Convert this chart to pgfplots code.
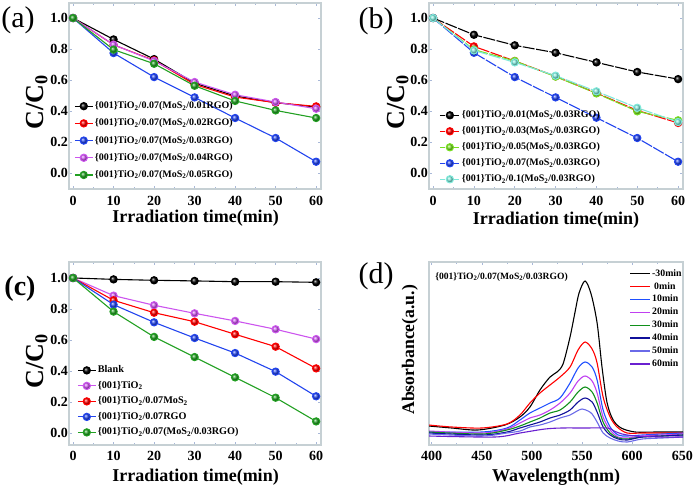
\documentclass[border=0pt]{standalone}
\usepackage{fontspec}
\setmainfont{Liberation Serif}
\usepackage{pgfplots}
\pgfplotsset{compat=1.18}

\definecolor{framecol}{HTML}{C6D0D4}
\definecolor{tickcol}{HTML}{A8B8D8}
\definecolor{cblue}{HTML}{2244EE}
\definecolor{cmag}{HTML}{CC55EE}
\definecolor{cgreen}{HTML}{22A022}
\definecolor{clgreen}{HTML}{77DD22}
\definecolor{ccyan}{HTML}{7FE8DA}
\definecolor{dblue}{HTML}{1F4FFF}
\definecolor{dviolet}{HTML}{C040F0}
\definecolor{dgreen}{HTML}{10901A}
\definecolor{dnavy}{HTML}{10109A}
\definecolor{dslate}{HTML}{6A6AE8}
\definecolor{dpurple}{HTML}{6A20D0}

\pgfplotsset{
  panel/.style={
    scale only axis,
    axis line style={draw=framecol, line width=1.6pt},
    tick style={draw=tickcol, line width=0.6pt},
    tick align=inside,
    major tick length=3pt, minor tick length=2pt,
    ticklabel style={font=\fontsize{14}{16}\selectfont\bfseries},
    yticklabel style={inner sep=1pt},
    xticklabel style={inner sep=0pt, yshift=-7pt},
    /pgf/number format/assume math mode=true,
    xlabel style={font=\fontsize{18}{20}\selectfont\bfseries, anchor=center},
    ylabel style={anchor=center},
    clip=false,
  },
  kin/.style={
    panel,
    xmin=-1, xmax=61.2,
    xtick={0,10,20,30,40,50,60},
    ytick={0,0.2,0.4,0.6,0.8,1.0},
    minor x tick num=1,
    yticklabel style={/pgf/number format/.cd, fixed, fixed zerofill, precision=1},
    xlabel={Irradiation time(min)},
    ylabel={C/C\textsubscript{0}},
    ylabel style={font=\fontsize{26}{28}\selectfont\bfseries},
    legend cell align=left,
    legend image code/.code={\draw[mark repeat=2,mark phase=2,##1] plot coordinates {(0pt,0pt) (9pt,0pt) (18pt,0pt)};},
  },
  speclegend/.style={
    legend image code/.code={\draw[##1, line width=1.4pt] (0pt,0pt) -- (20pt,0pt);},
  },
  bl/.style={line width=1.1pt, mark=ball, mark size=3.6pt, mark options={solid, ball color=#1}, color=#1},
  bd/.style={line width=1.1pt, dash pattern=on 12pt off 1.5pt, mark=ball, mark size=3.6pt, mark options={solid, ball color=#1}, color=#1},
}

\begin{document}
\begin{tikzpicture}
\useasboundingbox (0,0) rectangle (695pt,488pt);

% ---------------- (a)
\begin{axis}[kin, at={(69pt,299pt)}, anchor=south west, width=252pt, height=186pt,
  ymin=-0.103, ymax=1.097,
  xlabel style={at={(axis description cs:0.502,-0.158)}},
  ylabel style={at={(axis description cs:-0.127,0.468)}},
  legend style={at={(0.008,0.484)}, anchor=north west, draw=none, fill=none,
    font=\fontsize{10}{12}\selectfont\bfseries, row sep=7.2pt, column sep=1.5pt,
    nodes={inner sep=0pt, text height=7.5pt, text depth=2.5pt}},
]
\addplot[bl=black] coordinates {(0,1.0) (10,0.862) (20,0.735) (30,0.58) (40,0.497) (50,0.454) (60,0.426)};
\addlegendentry{\{001\}TiO\textsubscript{2}/0.07(MoS\textsubscript{2}/0.01RGO)}
\addplot[bl=red] coordinates {(0,1.0) (10,0.827) (20,0.727) (30,0.572) (40,0.49) (50,0.454) (60,0.43)};
\addlegendentry{\{001\}TiO\textsubscript{2}/0.07(MoS\textsubscript{2}/0.02RGO)}
\addplot[bl=cblue] coordinates {(0,1.0) (10,0.774) (20,0.619) (30,0.488) (40,0.355) (50,0.226) (60,0.073)};
\addlegendentry{\{001\}TiO\textsubscript{2}/0.07(MoS\textsubscript{2}/0.03RGO)}
\addplot[bl=cmag] coordinates {(0,1.0) (10,0.828) (20,0.723) (30,0.587) (40,0.505) (50,0.458) (60,0.415)};
\addlegendentry{\{001\}TiO\textsubscript{2}/0.07(MoS\textsubscript{2}/0.04RGO)}
\addplot[bl=cgreen] coordinates {(0,1.0) (10,0.796) (20,0.705) (30,0.563) (40,0.465) (50,0.404) (60,0.355)};
\addlegendentry{\{001\}TiO\textsubscript{2}/0.07(MoS\textsubscript{2}/0.05RGO)}
\end{axis}

% ---------------- (b)
\begin{axis}[kin, at={(429pt,299pt)}, anchor=south west, width=254pt, height=186pt,
  ymin=-0.103, ymax=1.097,
  xlabel style={at={(axis description cs:0.5,-0.167)}},
  ylabel style={at={(axis description cs:-0.122,0.468)}},
  legend style={at={(0.028,0.435)}, anchor=north west, draw=none, fill=none,
    font=\fontsize{10}{12}\selectfont\bfseries, row sep=6pt, column sep=1.5pt,
    nodes={inner sep=0pt, text height=7.5pt, text depth=2.5pt}},
  legend image code/.code={\draw[#1, dash pattern=on 5pt off 2pt] (0pt,0pt) -- (20pt,0pt); \draw[#1, mark repeat=2, mark phase=2, draw=none] plot coordinates {(0pt,0pt) (10pt,0pt) (20pt,0pt)};},
]
\addplot[bd=black] coordinates {(0,1.0) (10,0.892) (20,0.824) (30,0.776) (40,0.714) (50,0.652) (60,0.606)};
\addlegendentry{\{001\}TiO\textsubscript{2}/0.01(MoS\textsubscript{2}/0.03RGO)}
\addplot[bd=red] coordinates {(0,1.0) (10,0.817) (20,0.723) (30,0.624) (40,0.516) (50,0.404) (60,0.323)};
\addlegendentry{\{001\}TiO\textsubscript{2}/0.03(MoS\textsubscript{2}/0.03RGO)}
\addplot[bd=clgreen] coordinates {(0,1.0) (10,0.796) (20,0.723) (30,0.622) (40,0.514) (50,0.398) (60,0.34)};
\addlegendentry{\{001\}TiO\textsubscript{2}/0.05(MoS\textsubscript{2}/0.03RGO)}
\addplot[bd=cblue] coordinates {(0,1.0) (10,0.776) (20,0.619) (30,0.488) (40,0.357) (50,0.226) (60,0.073)};
\addlegendentry{\{001\}TiO\textsubscript{2}/0.07(MoS\textsubscript{2}/0.03RGO)}
\addplot[bd=ccyan] coordinates {(0,1.0) (10,0.791) (20,0.714) (30,0.628) (40,0.527) (50,0.421) (60,0.329)};
\addlegendentry{\{001\}TiO\textsubscript{2}/0.1(MoS\textsubscript{2}/0.03RGO)}
\end{axis}

% ---------------- (c)
\begin{axis}[kin, at={(69pt,43pt)}, anchor=south west, width=252pt, height=183pt,
  ymin=-0.077, ymax=1.103,
  xticklabel style={yshift=1pt},
  xlabel style={at={(axis description cs:0.502,-0.175)}},
  ylabel style={at={(axis description cs:-0.127,0.459)}},
  legend style={at={(0.02,0.447)}, anchor=north west, draw=none, fill=none,
    font=\fontsize{10.2}{12}\selectfont\bfseries, row sep=5.5pt, column sep=1.5pt,
    nodes={inner sep=0pt, text height=7.5pt, text depth=2.5pt}},
]
\addplot[bl=black] coordinates {(0,1.0) (10,0.991) (20,0.985) (30,0.981) (40,0.976) (50,0.976) (60,0.972)};
\addlegendentry{Blank}
\addplot[bl=cmag] coordinates {(0,1.0) (10,0.886) (20,0.824) (30,0.772) (40,0.723) (50,0.669) (60,0.606)};
\addlegendentry{\{001\}TiO\textsubscript{2}}
\addplot[bl=red] coordinates {(0,1.0) (10,0.856) (20,0.776) (30,0.718) (40,0.637) (50,0.557) (60,0.417)};
\addlegendentry{\{001\}TiO\textsubscript{2}/0.07MoS\textsubscript{2}}
\addplot[bl=cblue] coordinates {(0,1.0) (10,0.828) (20,0.714) (30,0.613) (40,0.516) (50,0.396) (60,0.237)};
\addlegendentry{\{001\}TiO\textsubscript{2}/0.07RGO}
\addplot[bl=cgreen] coordinates {(0,1.0) (10,0.783) (20,0.62) (30,0.49) (40,0.359) (50,0.228) (60,0.075)};
\addlegendentry{\{001\}TiO\textsubscript{2}/0.07(MoS\textsubscript{2}/0.03RGO)}
\end{axis}

% ---------------- (d)
\begin{axis}[panel, speclegend, at={(429pt,43pt)}, anchor=south west, width=254pt, height=183pt,
  xmin=397.3, xmax=650.7, ymin=0, ymax=183,
  xtick={400,450,500,550,600,650}, minor x tick num=1, ytick=\empty,
  clip=true,
  xticklabel style={yshift=1pt},
  xlabel={Wavelength(nm)}, ylabel={Absorbance(a.u.)},
  xlabel style={at={(axis description cs:0.5,-0.175)}},
  ylabel style={font=\fontsize{17.7}{20}\selectfont\bfseries, at={(axis description cs:-0.075,0.52)}},
  legend cell align=left,
  legend style={at={(0.776,0.973)}, anchor=north west, draw=none, fill=none,
    font=\fontsize{9.8}{12}\selectfont\bfseries, row sep=3.9pt, column sep=1.5pt,
    nodes={inner sep=0pt, text height=7pt, text depth=2pt}},
  every axis plot/.append style={smooth, line width=1.1pt},
]
\addplot[black] coordinates {(397,19) (420,17) (446,15) (473,20) (488,28) (498,38) (508,55) (518,68) (525,73) (531,81) (538,108) (543,133) (547,152) (553,164) (559,151) (565,122) (570,77) (575,42) (581,25) (589,17) (603,13) (625,13) (651,13)};
\addlegendentry{-30min}
\addplot[red] coordinates {(397,20) (420,18) (450,17) (475,21) (488,30) (498,42) (508,52) (518,60) (528,68) (538,78) (546,95) (553,103) (560,96) (565,82) (571,48) (578,28) (585,18) (595,12) (610,12) (630,12) (651,12)};
\addlegendentry{\hspace{2pt}0min}
\addplot[dblue] coordinates {(397,13) (450,13) (475,17) (488,25) (498,32) (508,37) (518,42) (528,47) (538,62) (546,77) (553,83) (560,78) (565,65) (571,35) (578,18) (586,10) (595,9) (610,10) (630,11) (651,12)};
\addlegendentry{10min}
\addplot[dviolet] coordinates {(397,14) (450,12) (475,16) (488,22) (498,27) (508,30) (518,35) (528,42) (538,52) (546,64) (553,69) (560,64) (565,52) (571,28) (578,15) (586,8) (595,7) (610,9) (630,10) (651,11)};
\addlegendentry{20min}
\addplot[dgreen] coordinates {(397,13) (450,11) (475,15) (488,19) (498,23) (508,27) (518,32) (528,35) (538,43) (546,53) (553,58) (560,53) (565,42) (571,23) (578,12) (586,7) (595,6) (610,8) (630,9) (651,10)};
\addlegendentry{30min}
\addplot[dnavy] coordinates {(397,12) (450,10) (475,13) (488,17) (498,20) (508,23) (518,27) (528,30) (538,35) (546,43) (553,47) (560,43) (565,33) (571,18) (578,10) (586,6) (595,5) (610,8) (630,9) (651,10)};
\addlegendentry{40min}
\addplot[dslate] coordinates {(397,11) (450,9) (475,12) (488,14) (498,18) (508,20) (518,23) (528,27) (538,30) (545,34) (550,36) (556,34) (560,31) (565,23) (571,12) (578,7) (586,4) (595,3) (610,6) (630,7) (651,8)};
\addlegendentry{50min}
\addplot[dpurple] coordinates {(397,9) (463,8) (488,12) (513,16) (530,17) (553,17) (575,17) (582,14) (590,11) (603,9) (625,8) (651,8)};
\addlegendentry{60min}
\node[anchor=west, font=\fontsize{9.6}{11}\selectfont\bfseries, inner sep=0pt] at (axis description cs:0.024,0.918) {\{001\}TiO\textsubscript{2}/0.07(MoS\textsubscript{2}/0.03RGO)};
\end{axis}

% panel labels
\node[font=\fontsize{30}{32}\selectfont] at (18pt,468pt) {(a)};
\node[font=\fontsize{30}{32}\selectfont] at (376pt,467pt) {(b)};
\node[font=\fontsize{28}{30}\selectfont\bfseries] at (20pt,199pt) {(c)};
\node[font=\fontsize{30}{32}\selectfont] at (376pt,212pt) {(d)};
\end{tikzpicture}
\end{document}
